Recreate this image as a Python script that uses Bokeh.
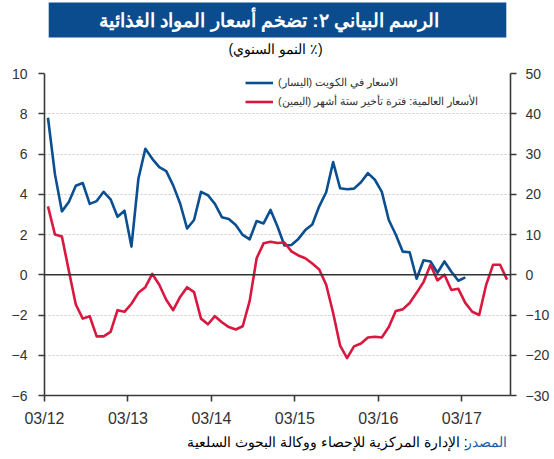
from bokeh.plotting import figure
from bokeh.layouts import column
from bokeh.models import (Range1d, LinearAxis, FixedTicker, Span, Legend, LegendItem,
                          ColumnDataSource)
from bokeh.core.properties import value
from bokeh.embed import file_html
from bokeh.resources import INLINE

# ---------------- data ----------------
kuwait_food = [7.8, 5.0, 3.15, 3.62, 4.42, 4.56, 3.52, 3.66, 4.12, 3.75, 2.88, 3.18,
               1.4, 4.77, 6.26, 5.76, 5.35, 5.15, 4.44, 3.54, 2.3, 2.72, 4.12, 3.95,
               3.52, 2.86, 2.77, 2.47, 1.98, 1.76, 2.67, 2.55, 3.22, 2.4, 1.45, 1.48,
               1.78, 2.22, 2.5, 3.4, 4.1, 5.6, 4.3, 4.25, 4.28, 4.6, 5.05, 4.72,
               4.12, 2.72, 2.0, 1.15, 1.12, -0.2, 0.72, 0.66, 0.1, 0.66, 0.15, -0.3,
               -0.13]
global_food_lag6 = [17.0, 10.0, 9.5, 1.0, -7.4, -10.9, -10.3, -15.3, -15.3, -14.2, -8.8, -9.2,
                    -7.2, -4.5, -3.1, 0.2, -2.5, -6.2, -8.8, -5.5, -3.1, -4.3, -10.9, -12.3,
                    -10.3, -11.8, -13.0, -13.6, -12.8, -6.5, 4.1, 7.8, 8.2, 7.9, 8.0, 5.8,
                    4.8, 4.1, 2.8, 1.3, -2.5, -9.5, -17.6, -20.7, -17.8, -17.1, -15.6, -15.4,
                    -15.6, -13.0, -9.0, -8.6, -7.0, -4.5, -1.8, 2.5, -1.4, 0.0, -3.8, -3.5,
                    -7.0, -9.2, -10.0, -2.5, 2.5, 2.5, -1.2]
tick_labels = ["03/12", "03/13", "03/14", "03/15", "03/16", "03/17"]
tick_month_index = [0, 12, 24, 36, 48, 60]

title_text = "الرسم البياني ٢: تضخم أسعار المواد الغذائية"
subtitle_text = "\u202b(٪  النمو السنوي)\u202c"
legend_blue = "\u202bالاسعار في الكويت (اليسار)\u202c"
legend_red = "\u202bالأسعار العالمية: فترة تأخير ستة أشهر (اليمين)\u202c"
source_word = "المصدر"
source_text = "\u202b: الإدارة المركزية للإحصاء ووكالة البحوث السلعية\u202c"

BLUE = "#0b4f91"
RED = "#d9173f"
AXIS = "#3a3a3a"
NUMFONT = "Liberation Sans"
W = 554

# ---------------- header (title bar + subtitle) ----------------
top = figure(width=W, height=60, x_range=Range1d(0, W), y_range=Range1d(60, 0),
             output_backend="svg", toolbar_location=None, min_border=0,
             x_axis_type=None, y_axis_type=None)
top.outline_line_color = None
top.quad(left=[5], right=[549], top=[2], bottom=[37], fill_color="#0a4c8e", line_color=None)
top.text(x=[267], y=[20], text=[title_text], text_align="center", text_baseline="middle",
         text_color="white", text_font=value(NUMFONT), text_font_style="bold",
         text_font_size="19px")
top.text(x=[277], y=[48], text=[subtitle_text], text_align="center", text_baseline="middle",
         text_color="black", text_font=value(NUMFONT), text_font_size="14px")

# ---------------- main chart ----------------
src_blue = ColumnDataSource(dict(x=[i + 0.5 for i in range(len(kuwait_food))], y=kuwait_food))
src_red = ColumnDataSource(dict(x=[i + 0.5 for i in range(len(global_food_lag6))], y=global_food_lag6))

p = figure(width=W, height=369, output_backend="svg", toolbar_location=None,
           x_range=Range1d(0, 67), y_range=Range1d(-6, 10),
           min_border_left=44, min_border_right=44, min_border_top=13, min_border_bottom=32)
p.outline_line_color = None
p.background_fill_color = "white"
p.border_fill_color = "white"
p.extra_y_ranges = {"right": Range1d(-30, 50)}

p.xgrid.visible = False
p.ygrid.ticker = FixedTicker(ticks=[-6, -4, -2, 0, 2, 4, 6, 8, 10])
p.ygrid.grid_line_color = "#c9c9c9"
p.ygrid.grid_line_dash = "2 2"
p.ygrid.grid_line_width = 1

def style_axis(ax):
    ax.axis_line_color = AXIS
    ax.axis_line_width = 1.6
    ax.major_tick_line_color = AXIS
    ax.major_tick_line_width = 1.6
    ax.major_tick_out = 6
    ax.major_tick_in = 0
    ax.minor_tick_line_color = None
    ax.major_label_text_font = NUMFONT
    ax.major_label_text_font_size = "14px"
    ax.major_label_text_color = "#333333"

la = p.yaxis[0]
la.ticker = FixedTicker(ticks=[-6, -4, -2, 0, 2, 4, 6, 8, 10])
style_axis(la)
la.major_label_standoff = 11

ra = LinearAxis(y_range_name="right", ticker=FixedTicker(ticks=[-30, -20, -10, 0, 10, 20, 30, 40, 50]))
style_axis(ra)
ra.major_label_standoff = 9
p.add_layout(ra, "right")

ba = p.xaxis[0]
ba.ticker = FixedTicker(ticks=tick_month_index)
ba.major_label_overrides = {m: lab for m, lab in zip(tick_month_index, tick_labels)}
style_axis(ba)
ba.major_label_standoff = 8
ba.major_label_text_font_size = "16px"

p.add_layout(Span(location=0, dimension="width", line_color="#333333", line_width=1.4))

rb = p.line("x", "y", source=src_blue, line_color=BLUE, line_width=2.6, line_join="round")
rr = p.line("x", "y", source=src_red, y_range_name="right", line_color=RED, line_width=2.6,
            line_join="round")

legend = Legend(items=[LegendItem(label=legend_blue, renderers=[rb]),
                       LegendItem(label=legend_red, renderers=[rr])],
                location=(201, 284), orientation="vertical",
                background_fill_alpha=0, border_line_color=None,
                padding=0, margin=0, spacing=0,
                glyph_width=28, glyph_height=19, label_height=19, label_standoff=5,
                label_text_font_size="10.8px", label_text_color="#333333",
                label_text_font=NUMFONT)
p.add_layout(legend)

# ---------------- footer (source) ----------------
bottom = figure(width=W, height=30, x_range=Range1d(0, W), y_range=Range1d(30, 0),
                output_backend="svg", toolbar_location=None, min_border=0,
                x_axis_type=None, y_axis_type=None)
bottom.outline_line_color = None
bottom.text(x=[550], y=[12], text=[source_word], text_align="right", text_baseline="middle",
            text_color="#1a5fa8", text_font=value(NUMFONT), text_font_size="14px")
bottom.text(x=[503], y=[12], text=[source_text], text_align="right", text_baseline="middle",
            text_color="black", text_font=value(NUMFONT), text_font_size="14px")

layout = column(top, p, bottom, spacing=0)
open("out.html", "w").write(file_html(layout, INLINE))
